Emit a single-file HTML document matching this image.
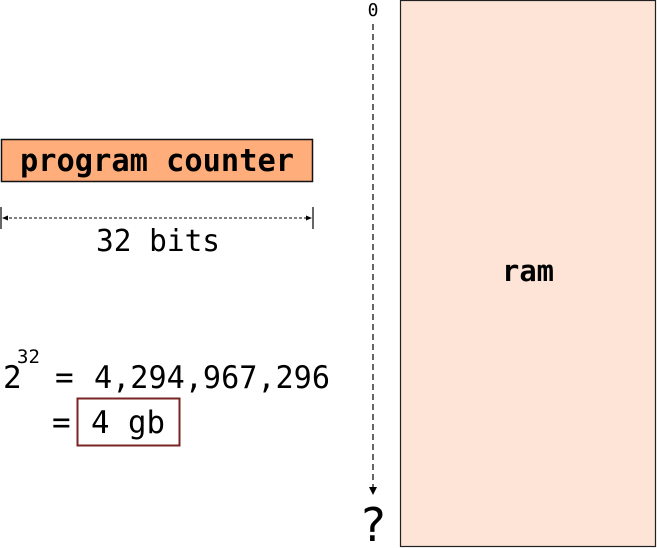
<!DOCTYPE html>
<html><head><meta charset="utf-8"><style>
html,body{margin:0;padding:0;background:#fff;}
svg{display:block;}
text{font-family:"DejaVu Sans Mono","Liberation Mono",monospace;fill:#000;}
</style></head><body>
<svg width="657" height="548" viewBox="0 0 657 548" xmlns="http://www.w3.org/2000/svg">
<defs>
<marker id="ah" markerWidth="8" markerHeight="8" refX="7" refY="4" orient="auto" markerUnits="userSpaceOnUse">
<path d="M0,0 L8,4 L0,8 z" fill="#000"/>
</marker>
</defs>
<rect x="400.5" y="0.5" width="255" height="546" fill="#fde4d6" stroke="#222" stroke-width="1.2"/>
<text x="528" y="281" font-size="29" font-weight="bold" text-anchor="middle" textLength="52" lengthAdjust="spacingAndGlyphs">ram</text>
<text x="373" y="16" font-size="18" text-anchor="middle">0</text>
<line x1="373" y1="24" x2="373" y2="494" stroke="#000" stroke-width="1.2" stroke-dasharray="6,4" marker-end="url(#ah)"/>
<text x="373" y="541" font-size="46" text-anchor="middle">?</text>

<rect x="1.5" y="139.5" width="311" height="42" fill="#ffad7a" stroke="#111" stroke-width="1.5"/>
<text x="157" y="171" font-size="31" font-weight="bold" text-anchor="middle" textLength="274" lengthAdjust="spacingAndGlyphs">program counter</text>

<line x1="1" y1="207" x2="1" y2="229" stroke="#000" stroke-width="1.2"/>
<line x1="313" y1="207" x2="313" y2="229" stroke="#000" stroke-width="1.2"/>
<line x1="4" y1="218" x2="310" y2="218" stroke="#000" stroke-width="1" stroke-dasharray="3,2"/>
<path d="M2,218 L8,215.5 L8,220.5 z" fill="#000"/>
<path d="M312,218 L306,215.5 L306,220.5 z" fill="#000"/>
<text x="158" y="251" font-size="30" text-anchor="middle" textLength="124" lengthAdjust="spacingAndGlyphs">32 bits</text>

<text x="3" y="388" font-size="31">2</text>
<text x="17" y="363" font-size="19">32</text>
<text x="55" y="388" font-size="31">=</text>
<text x="94" y="388" font-size="31" textLength="236" lengthAdjust="spacingAndGlyphs">4,294,967,296</text>
<text x="52" y="433" font-size="31">=</text>
<rect x="77.5" y="398.5" width="102" height="47" fill="none" stroke="#7a2323" stroke-width="2"/>
<text x="91" y="433" font-size="31" textLength="74" lengthAdjust="spacingAndGlyphs">4 gb</text>
</svg>
</body></html>
